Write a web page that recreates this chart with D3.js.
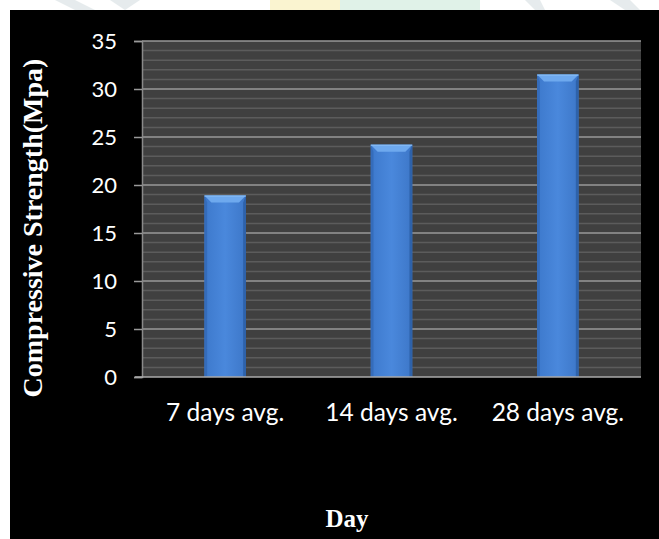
<!DOCTYPE html>
<html lang="en">
<head>
    <meta charset="UTF-8">
    <title>Compressive Strength</title>
    <script src="https://d3js.org/d3.v7.min.js"></script>
    <style>
        body { margin: 0; background: #fff; }
        svg { display: block; }
        .tick-y { font-family: Lato, "Open Sans", sans-serif; fill: #fff; }
        .tick-x { font-family: Lato, "Open Sans", sans-serif; fill: #fff; }
        .axis-title { font-family: "Liberation Serif", "Times New Roman", serif; font-weight: bold; fill: #fff; }
    </style>
</head>
<body>
<div id="chart"></div>
<script>
    const categories = ["7 days avg.", "14 days avg.", "28 days avg."];
    const strength = [18.9, 24.2, 31.5];
    const yTicks = [0, 5, 10, 15, 20, 25, 30, 35];

    const width = 659, height = 539;
    const plot = { left: 142, right: 641, top: 41, bottom: 377 };

    const svg = d3.select("#chart").append("svg")
        .attr("width", width).attr("height", height);

    // faint watermark strip at the very top
    const wm = svg.append("g").attr("opacity", 0.35);
    wm.append("path").attr("d", "M55,0 L75,10 L95,10 L75,0 Z").attr("fill", "#b8c8cc");
    wm.append("path").attr("d", "M110,0 L125,10 L140,0 Z").attr("fill", "#b8c8cc");
    wm.append("rect").attr("x", 270).attr("y", 0).attr("width", 70).attr("height", 10).attr("fill", "#f2e27a");
    wm.append("rect").attr("x", 340).attr("y", 0).attr("width", 140).attr("height", 10).attr("fill", "#a9dcc0");
    wm.append("path").attr("d", "M525,0 L535,10 L545,10 L540,0 Z").attr("fill", "#b8c8cc");
    wm.append("path").attr("d", "M610,0 L625,10 L640,10 L630,0 Z").attr("fill", "#b8c8cc");

    // black panel
    svg.append("rect").attr("x", 10).attr("y", 10)
        .attr("width", width - 10).attr("height", height - 10).attr("fill", "#000");

    const x = d3.scaleBand().domain(categories)
        .range([plot.left, plot.right]).paddingInner(0.75).paddingOuter(0.375);
    const y = d3.scaleLinear().domain([0, 35]).range([plot.bottom, plot.top]);

    // plot area
    svg.append("rect")
        .attr("x", plot.left).attr("y", plot.top)
        .attr("width", plot.right - plot.left).attr("height", plot.bottom - plot.top)
        .attr("fill", "#404040");

    // minor gridlines every 1 unit
    svg.append("g").selectAll("line").data(d3.range(1, 35).filter(v => v % 5 !== 0)).enter()
        .append("line")
        .attr("x1", plot.left).attr("x2", plot.right)
        .attr("y1", d => y(d)).attr("y2", d => y(d))
        .attr("stroke", "#5c5c5c").attr("stroke-width", 1.5);

    // major gridlines
    svg.append("g").selectAll("line").data(yTicks.filter(v => v > 0)).enter()
        .append("line")
        .attr("x1", plot.left).attr("x2", plot.right)
        .attr("y1", d => y(d)).attr("y2", d => y(d))
        .attr("stroke", "#999").attr("stroke-width", 1.5);

    // bar gradients
    const defs = svg.append("defs");
    const g1 = defs.append("linearGradient").attr("id", "barFace")
        .attr("x1", "0").attr("x2", "1").attr("y1", "0").attr("y2", "0");
    g1.append("stop").attr("offset", "0%").attr("stop-color", "#3d79cc");
    g1.append("stop").attr("offset", "50%").attr("stop-color", "#4a88dc");
    g1.append("stop").attr("offset", "100%").attr("stop-color", "#3d77c8");

    const bev = 7;
    const bars = svg.append("g").selectAll("g").data(categories).enter().append("g");

    bars.append("rect")
        .attr("x", d => x(d)).attr("y", (d, i) => y(strength[i]))
        .attr("width", x.bandwidth()).attr("height", (d, i) => y(0) - y(strength[i]))
        .attr("fill", "url(#barFace)");

    // left / right bevels
    bars.append("path").attr("fill", "#3369b5").attr("opacity", 0.8)
        .attr("d", (d, i) => {
            const x0 = x(d), t = y(strength[i]), b = y(0);
            return `M${x0},${t} L${x0 + bev * 0.4},${t + bev} L${x0 + bev * 0.4},${b} L${x0},${b} Z`;
        });
    bars.append("path").attr("fill", "#2c5ea4").attr("opacity", 0.85)
        .attr("d", (d, i) => {
            const x1 = x(d) + x.bandwidth(), t = y(strength[i]), b = y(0);
            return `M${x1},${t} L${x1 - bev * 0.4},${t + bev} L${x1 - bev * 0.4},${b} L${x1},${b} Z`;
        });
    // top bevel
    bars.append("path").attr("fill", "#6ea9ee")
        .attr("d", (d, i) => {
            const x0 = x(d), x1 = x0 + x.bandwidth(), t = y(strength[i]);
            return `M${x0},${t} L${x1},${t} L${x1 - bev},${t + bev} L${x0 + bev},${t + bev} Z`;
        });
    bars.append("line")
        .attr("x1", d => x(d)).attr("x2", d => x(d) + x.bandwidth())
        .attr("y1", (d, i) => y(strength[i]) + 0.5).attr("y2", (d, i) => y(strength[i]) + 0.5)
        .attr("stroke", "#8cc0f6").attr("stroke-width", 1);

    // y axis
    const yAxis = svg.append("g").attr("transform", `translate(${plot.left},0)`)
        .call(d3.axisLeft(y).tickValues(yTicks).tickSize(8).tickPadding(17));
    yAxis.select(".domain").attr("stroke", "#8a8a8a").attr("stroke-width", 1.5);
    yAxis.selectAll(".tick line").attr("stroke", "#999").attr("stroke-width", 1.5);
    yAxis.selectAll(".tick text").attr("class", "tick-y")
        .attr("font-size", 22).attr("fill", "#fff").attr("dy", "0.36em");

    // x axis line
    svg.append("line")
        .attr("x1", plot.left - 7).attr("x2", plot.right)
        .attr("y1", y(0)).attr("y2", y(0))
        .attr("stroke", "#aaa").attr("stroke-width", 1.5);

    // x labels
    svg.append("g").selectAll("text").data(categories).enter()
        .append("text").attr("class", "tick-x")
        .attr("x", d => x(d) + x.bandwidth() / 2).attr("y", 421)
        .attr("text-anchor", "middle").attr("font-size", 24.5)
        .text(d => d);

    // axis titles
    svg.append("text").attr("class", "axis-title")
        .attr("transform", "rotate(-90)")
        .attr("x", -228).attr("y", 42)
        .attr("text-anchor", "middle").attr("font-size", 28)
        .text("Compressive Strength(Mpa)");

    svg.append("text").attr("class", "axis-title")
        .attr("x", 347).attr("y", 527)
        .attr("text-anchor", "middle").attr("font-size", 25)
        .text("Day");
</script>
</body>
</html>
